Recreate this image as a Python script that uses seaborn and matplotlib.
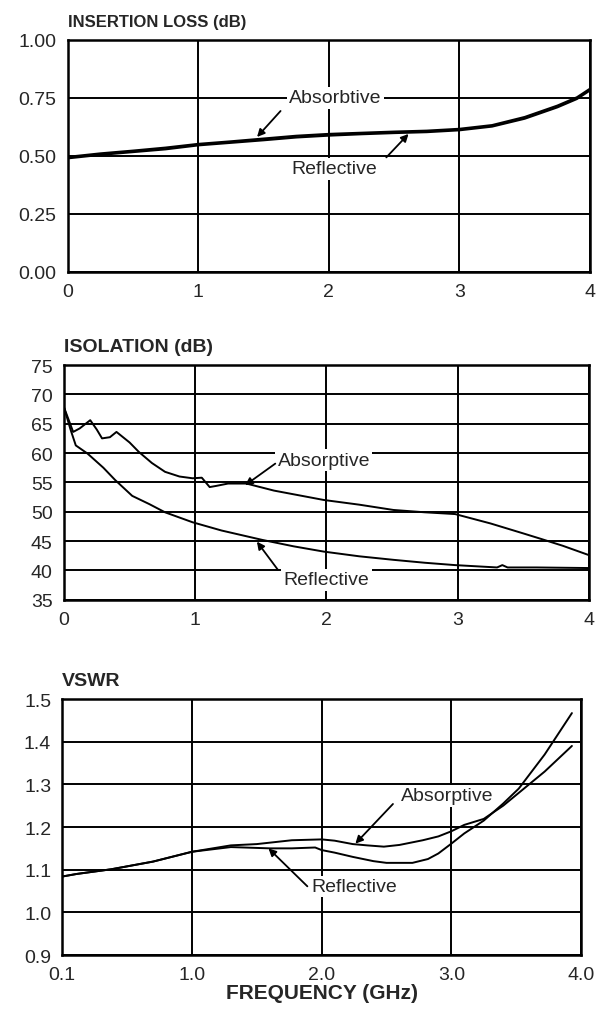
import numpy as np
import pandas as pd
import matplotlib
matplotlib.use("Agg")
import matplotlib.pyplot as plt
import seaborn as sns
from matplotlib import font_manager

# ---- data ----
il_freq = [0, 0.25, 0.5, 0.75, 1.0, 1.25, 1.5, 1.75, 2.0, 2.25, 2.5, 2.75, 3.0, 3.25, 3.5, 3.75, 3.9, 4.0]
il_absorptive = [0.495, 0.51, 0.522, 0.535, 0.551, 0.562, 0.574, 0.586, 0.594, 0.599, 0.604, 0.608, 0.616, 0.632, 0.667, 0.716, 0.752, 0.789]
il_reflective = [0.489, 0.504, 0.516, 0.528, 0.545, 0.556, 0.567, 0.579, 0.587, 0.593, 0.598, 0.602, 0.610, 0.626, 0.660, 0.709, 0.745, 0.782]

iso_freq_abs = [0, 0.03, 0.07, 0.12, 0.2, 0.25, 0.29, 0.35, 0.4, 0.5, 0.57, 0.67, 0.77, 0.88, 0.98,
                1.05, 1.11, 1.16, 1.25, 1.39, 1.6, 1.98, 2.25, 2.51, 2.75, 2.98, 3.25, 3.5, 3.63, 3.8, 4.0]
iso_absorptive = [67.8, 66.0, 63.6, 64.2, 65.6, 64.0, 62.5, 62.7, 63.6, 61.8, 60.2, 58.3, 56.8, 56.0, 55.7,
                  55.8, 54.2, 54.4, 54.8, 54.8, 53.6, 52.0, 51.2, 50.3, 49.9, 49.6, 48.0, 46.3, 45.4, 44.2, 42.6]
iso_freq_ref = [0, 0.05, 0.09, 0.18, 0.3, 0.39, 0.52, 0.65, 0.77, 0.98, 1.2, 1.51, 1.75, 1.98,
                2.25, 2.51, 2.75, 2.98, 3.3, 3.34, 3.38, 3.6, 4.0]
iso_reflective = [67.8, 64.0, 61.3, 59.9, 57.5, 55.4, 52.7, 51.3, 49.9, 48.2, 46.8, 45.2, 44.1, 43.2,
                  42.4, 41.8, 41.3, 40.9, 40.5, 40.9, 40.5, 40.5, 40.4]

vswr_freq_abs = [0.1, 0.2, 0.44, 0.73, 1.0, 1.3, 1.5, 1.77, 2.0, 2.1, 2.24, 2.35, 2.48, 2.6, 2.78,
                 2.9, 3.0, 3.1, 3.25, 3.4, 3.52, 3.72, 3.93]
vswr_absorptive = [1.084, 1.09, 1.101, 1.119, 1.142, 1.157, 1.160, 1.169, 1.171, 1.168, 1.160, 1.157,
                   1.154, 1.158, 1.169, 1.178, 1.190, 1.205, 1.219, 1.250, 1.280, 1.330, 1.390]
vswr_freq_ref = [0.1, 0.2, 0.44, 0.73, 1.0, 1.3, 1.6, 1.77, 1.95, 2.0, 2.1, 2.24, 2.4, 2.5, 2.7,
                 2.82, 2.9, 3.0, 3.1, 3.25, 3.4, 3.52, 3.72, 3.93]
vswr_reflective = [1.084, 1.09, 1.101, 1.119, 1.142, 1.153, 1.150, 1.150, 1.152, 1.146, 1.140, 1.130,
                   1.120, 1.116, 1.116, 1.125, 1.138, 1.161, 1.185, 1.215, 1.255, 1.290, 1.370, 1.467]

il_ticks = [0.00, 0.25, 0.50, 0.75, 1.00]
iso_ticks = [35, 40, 45, 50, 55, 60, 65, 70, 75]
vswr_ticks = [0.9, 1.0, 1.1, 1.2, 1.3, 1.4, 1.5]
freq_ticks = [0, 1, 2, 3, 4]
vswr_freq_ticks = [0.1, 1.0, 2.0, 3.0, 4.0]

# ---- style ----
sns.set_style("white")
available = {f.name for f in font_manager.fontManager.ttflist}
narrow = "Liberation Sans Narrow" if "Liberation Sans Narrow" in available else "Liberation Sans"
plt.rcParams["font.family"] = ["Liberation Sans", "DejaVu Sans"]

LW = 1.4
label_kw = dict(fontsize=14, family="Liberation Sans")
box = dict(boxstyle="square,pad=0.12", fc="white", ec="none")
arrow = dict(arrowstyle="-|>", color="black", lw=1.3, mutation_scale=11, shrinkA=0, shrinkB=0)


def style_axes(ax, title, title_size=13):
    ax.set_axisbelow(True)
    ax.grid(True, color="black", lw=LW)
    for s in ax.spines.values():
        s.set_color("black")
        s.set_linewidth(1.8)
    ax.tick_params(length=0, labelsize=14, pad=8)
    ax.set_xlabel("")
    ax.set_ylabel("")
    ax.set_title(title, loc="left", fontsize=title_size, fontweight="bold", family=narrow, pad=10, x=0.0)


def note(ax, text, xy_text, tail, head):
    ax.annotate("", xy=head, xytext=tail, arrowprops=arrow, zorder=5)
    ax.text(*xy_text, text, ha="center", va="center", bbox=box, zorder=4, **label_kw)


fig = plt.figure(figsize=(6.03, 10.12), dpi=100)

# ---- insertion loss ----
ax1 = fig.add_axes([0.1123, 0.7305, 0.8662, 0.2292])
sns.lineplot(x=il_freq, y=il_absorptive, ax=ax1, color="black", lw=1.6, estimator=None, sort=False)
sns.lineplot(x=il_freq, y=il_reflective, ax=ax1, color="black", lw=1.6, estimator=None, sort=False)
ax1.set_xlim(0, 4)
ax1.set_ylim(0, 1)
ax1.set_xticks(freq_ticks)
ax1.set_yticks(il_ticks)
ax1.set_yticklabels([f"{t:.2f}" for t in il_ticks])
style_axes(ax1, "INSERTION LOSS (dB)", 12)
note(ax1, "Absorbtive", (2.05, 0.75), (1.63, 0.693), (1.45, 0.581))
note(ax1, "Reflective", (2.04, 0.443), (2.44, 0.493), (2.61, 0.594))

# ---- isolation ----
ax2 = fig.add_axes([0.1061, 0.4064, 0.8706, 0.2319])
sns.lineplot(x=iso_freq_abs, y=iso_absorptive, ax=ax2, color="black", lw=LW, estimator=None, sort=False)
sns.lineplot(x=iso_freq_ref, y=iso_reflective, ax=ax2, color="black", lw=LW, estimator=None, sort=False)
ax2.set_xlim(0, 4)
ax2.set_ylim(35, 75)
ax2.set_xticks(freq_ticks)
ax2.set_yticks(iso_ticks)
style_axes(ax2, "ISOLATION (dB)", 14)
note(ax2, "Absorptive", (1.98, 58.8), (1.61, 58.2), (1.38, 54.5))
note(ax2, "Reflective", (2.0, 38.4), (1.63, 40.1), (1.47, 44.9))

# ---- VSWR (0.1 to 1.0 GHz squeezed into the first division) ----
def fwd(x):
    x = np.asarray(x, dtype=float)
    return np.where(x < 1, (x - 0.1) / 0.9, x)


def inv(u):
    u = np.asarray(u, dtype=float)
    return np.where(u < 1, 0.1 + 0.9 * u, u)


ax3 = fig.add_axes([0.1033, 0.0553, 0.8602, 0.2530])
sns.lineplot(x=vswr_freq_abs, y=vswr_absorptive, ax=ax3, color="black", lw=LW, estimator=None, sort=False)
sns.lineplot(x=vswr_freq_ref, y=vswr_reflective, ax=ax3, color="black", lw=LW, estimator=None, sort=False)
ax3.set_xscale("function", functions=(fwd, inv))
ax3.set_xlim(0.1, 4.0)
ax3.set_ylim(0.9, 1.5)
ax3.set_xticks(vswr_freq_ticks)
ax3.set_xticklabels([f"{t:.1f}" for t in vswr_freq_ticks])
ax3.set_yticks(vswr_ticks)
ax3.set_yticklabels([f"{t:.1f}" for t in vswr_ticks])
ax3.minorticks_off()
style_axes(ax3, "VSWR", 14)
ax3.set_xlabel("FREQUENCY (GHz)", fontsize=15, fontweight="bold", family=narrow, labelpad=0)
note(ax3, "Absorptive", (2.97, 1.273), (2.55, 1.254), (2.26, 1.161))
note(ax3, "Reflective", (2.25, 1.061), (1.89, 1.061), (1.59, 1.15))

plt.savefig("out.png", dpi=100)
plt.close()
